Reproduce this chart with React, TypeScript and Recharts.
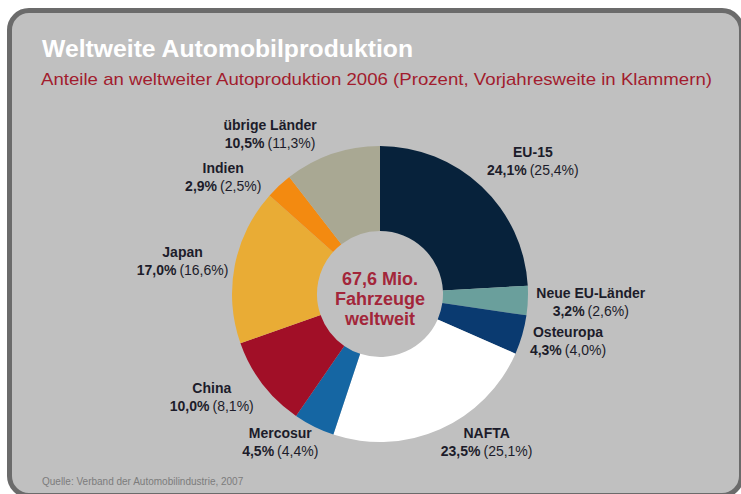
import React from 'react'
import { PieChart, Pie, Cell } from 'recharts'

const SEGMENTS = ['EU-15', 'Neue EU-Länder', 'Osteuropa', 'NAFTA', 'Mercosur', 'China', 'Japan', 'Indien', 'übrige Länder']
const SHARE_2006 = [24.1, 3.2, 4.3, 23.5, 4.5, 10.0, 17.0, 2.9, 10.5]
const SHARE_2005 = [25.4, 2.6, 4.0, 25.1, 4.4, 8.1, 16.6, 2.5, 11.3]
const TOTAL_LINES = ['67,6 Mio.', 'Fahrzeuge', 'weltweit']

const COLORS = ['#07223b', '#6a9f9c', '#0a3a70', '#ffffff', '#1566a3', '#a10f27', '#e9ac35', '#f38a10', '#a9a893']

// label placement tweaks: angle shift (deg, clockwise) and distance beyond the outer edge
const LABEL_SHIFT = [5.8, 0, -1.7, -11.7, 7.4, 5.6, -2, -10.5, -15.8]
const LABEL_GAP = [54, 63, 46, 35, 31, 50, 52, 47, 45]

const PIE_CX = 380
const PIE_CY = 294

const FONT = '"Liberation Sans", Arial, sans-serif'
const RADIAN = Math.PI / 180

const fmt = (v: number) => v.toFixed(1).replace('.', ',') + '%'

const data = SEGMENTS.map((name, i) => ({
  name,
  value: SHARE_2006[i],
  prev: SHARE_2005[i],
}))

function renderLabel(props: any) {
  const { cx, cy, midAngle, outerRadius, index } = props
  const angle = (midAngle - LABEL_SHIFT[index]) * RADIAN
  const r = outerRadius + LABEL_GAP[index]
  const x = cx + r * Math.cos(-angle)
  const y = cy + r * Math.sin(-angle)
  return (
    <g>
      <text x={x} y={y - 5} textAnchor="middle" fontFamily={FONT} fontSize={14} fontWeight="bold" fill="#1c1c2a">
        {SEGMENTS[index]}
      </text>
      <text x={x} y={y + 13} textAnchor="middle" fontFamily={FONT} fontSize={14} fill="#1c1c2a">
        <tspan fontWeight="bold">{fmt(SHARE_2006[index])}</tspan>
        <tspan dx={3}>({fmt(SHARE_2005[index])})</tspan>
      </text>
    </g>
  )
}

export default function App() {
  return (
    <div style={{ position: 'absolute', left: 0, top: 0, width: 741, height: 494, background: '#fff', overflow: 'hidden' }}>
      <div
        style={{
          position: 'absolute',
          left: 7,
          top: 8,
          width: 737,
          height: 490,
          boxSizing: 'border-box',
          border: '5px solid #6b6b6b',
          borderRadius: 22,
          background: '#c0c0c0',
        }}
      />
      <svg width={741} height={494} style={{ position: 'absolute', left: 0, top: 0 }}>
        <text x={42} y={57} fontFamily={FONT} fontSize={24} fontWeight="bold" fill="#ffffff" textLength={371} lengthAdjust="spacingAndGlyphs">
          Weltweite Automobilproduktion
        </text>
        <text x={41} y={85} fontFamily={FONT} fontSize={17} fill="#a21c2e" textLength={671} lengthAdjust="spacingAndGlyphs">
          Anteile an weltweiter Autoproduktion 2006 (Prozent, Vorjahresweite in Klammern)
        </text>
        <text x={42} y={485} fontFamily={FONT} fontSize={10} fill="#7c7c7c">
          Quelle: Verband der Automobilindustrie, 2007
        </text>
      </svg>
      <div style={{ position: 'absolute', left: 0, top: 0 }}>
        <PieChart width={741} height={494} margin={{ top: 0, right: 0, bottom: 0, left: 0 }}>
          <Pie
            data={data}
            dataKey="value"
            nameKey="name"
            cx={PIE_CX}
            cy={PIE_CY}
            innerRadius={63}
            outerRadius={148}
            startAngle={90}
            endAngle={-270}
            stroke="none"
            label={renderLabel}
            labelLine={false}
            isAnimationActive={false}
          >
            {data.map((entry, index) => (
              <Cell key={`cell-${index}`} fill={COLORS[index]} />
            ))}
          </Pie>
        </PieChart>
      </div>
      <svg width={741} height={494} style={{ position: 'absolute', left: 0, top: 0, pointerEvents: 'none' }}>
        <text textAnchor="middle" fontFamily={FONT} fontSize={18} fontWeight="bold" fill="#a3263a">
          {TOTAL_LINES.map((line, i) => (
            <tspan key={line} x={PIE_CX} y={PIE_CY - 9 + i * 20}>
              {line}
            </tspan>
          ))}
        </text>
      </svg>
    </div>
  )
}
